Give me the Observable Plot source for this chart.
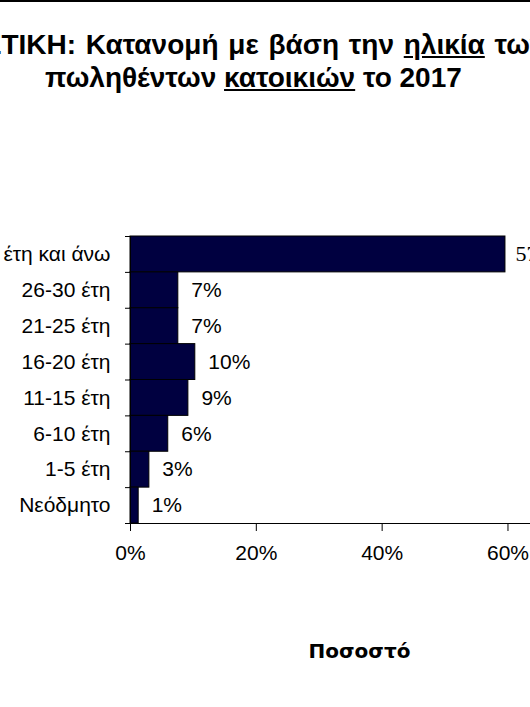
<!DOCTYPE html>
<html><head><meta charset="utf-8">
<script src="https://cdn.jsdelivr.net/npm/d3@7"></script>
<script src="https://cdn.jsdelivr.net/npm/@observablehq/plot@0.6"></script>
<style>
html,body{margin:0;padding:0;background:#fff;overflow:hidden;width:530px;height:707px;}
#wrap{position:relative;width:530px;height:707px;overflow:hidden;border-top:2px solid #000;box-sizing:border-box;}
.t{position:absolute;white-space:nowrap;font-family:"Liberation Sans",Arial,sans-serif;font-weight:bold;font-size:28px;color:#000;line-height:1;}
#chart{position:absolute;left:0;top:198px;}
</style></head><body>
<div id="wrap">
<div class="t" id="l1" style="top:29px;word-spacing:2px"><span id="pre">ΣΤΑΤΙΣ</span>ΤΙΚΗ: Κατανομή με βάση την <u>ηλικία</u> των</div>
<div class="t" id="l2" style="top:62px;left:45px">πωληθέντων <u>κατοικιών</u> το 2017</div>
<div id="chart"></div>
</div>
<script>
const categories = ["30 έτη και άνω", "26-30 έτη", "21-25 έτη", "16-20 έτη", "11-15 έτη", "6-10 έτη", "1-5 έτη", "Νεόδμητο"];
const values = [59.6, 7.6, 7.6, 10.3, 9.2, 6.0, 3.0, 1.3];
const valueLabels = ["57%", "7%", "7%", "10%", "9%", "6%", "3%", "1%"];
const xTicks = [0, 20, 40, 60];
const xTitle = "Ποσοστό";

const pre = document.getElementById("pre");
document.getElementById("l1").style.left = (1 - pre.offsetWidth) + "px";

const rows = categories.map((c, i) => ({cat: c, i, v: values[i], label: valueLabels[i]}));
const n = categories.length;
const W = 590, H = 490;

const chart = Plot.plot({
  width: W, height: H,
  marginLeft: 130, marginRight: 2, marginTop: 36, marginBottom: 167,
  style: {fontFamily: "'Liberation Sans', Arial, sans-serif", fontSize: "21px", color: "#000", background: "transparent", maxWidth: "none", overflow: "visible"},
  x: {domain: [0, 72.8]},
  y: {domain: [0, n], reverse: true},
  marks: [
    Plot.rectX(rows, {y1: "i", y2: d => d.i + 1, x1: 0, x2: "v", fill: "#000040", stroke: "#000", strokeWidth: 1}),
    Plot.ruleX([0], {stroke: "#000"}),
    Plot.ruleY([n], {stroke: "#000"}),
    Plot.axisY({ticks: d3.range(n).map(i => i + 0.5), tickFormat: i => categories[Math.floor(i)], tickSize: 0, tickPadding: 20, label: null, fontSize: 21, style: {letterSpacing: "0.4px"}}),
    Plot.axisY({ticks: d3.range(n + 1), tickFormat: () => "", tickSize: 5, label: null}),
    Plot.axisX({ticks: xTicks, tickFormat: d => d + "%", tickSize: 8, tickPadding: 14, label: null, fontSize: 21}),
    Plot.text(rows.slice(1), {x: "v", y: d => d.i + 0.5, text: "label", textAnchor: "start", dx: 13, fontSize: 21, fill: "#000"}),
    Plot.text(rows.slice(0, 1), {x: "v", y: d => d.i + 0.5, text: "label", textAnchor: "start", dx: 10, fontSize: 22, fontFamily: "'Liberation Serif', 'Times New Roman', serif", fill: "#000"}),
    Plot.text([xTitle], {frameAnchor: "bottom", dy: 134, fontSize: 20, fontWeight: "bold", fontFamily: "'DejaVu Sans', sans-serif", fill: "#000"})
  ]
});
document.getElementById("chart").appendChild(chart);
</script>
</body></html>
